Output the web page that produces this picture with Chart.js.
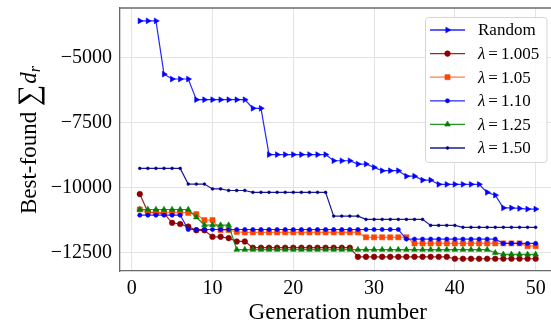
<!DOCTYPE html>
<html><head><meta charset="utf-8">
<script src="https://cdn.jsdelivr.net/npm/chart.js@4/dist/chart.umd.min.js"></script>
<style>html,body{margin:0;padding:0;background:#fff}canvas{display:block}</style>
</head><body>
<canvas id="c" width="551" height="322"></canvas>
<script>
// ---- data ----
const generations = [1,2,3,4,5,6,7,8,9,10,11,12,13,14,15,16,17,18,19,20,21,22,23,24,25,26,27,28,29,30,31,32,33,34,35,36,37,38,39,40,41,42,43,44,45,46,47,48,49,50];
const seriesNames = ['Random', 'λ=1.005', 'λ=1.05', 'λ=1.10', 'λ=1.25', 'λ=1.50'];
const randomVals = [-3600,-3600,-3600,-5650,-5835,-5835,-5835,-6630,-6630,-6630,-6630,-6630,-6630,-6630,-6960,-6960,-8740,-8740,-8740,-8740,-8740,-8740,-8740,-8740,-8977,-8977,-8977,-9104,-9104,-9231,-9360,-9360,-9360,-9570,-9570,-9720,-9720,-9885,-9885,-9885,-9885,-9885,-9885,-10192,-10300,-10790,-10790,-10810,-10835,-10835];
const lam1005 = [-10258,-10950,-10980,-11000,-11361,-11411,-11510,-11650,-11650,-11900,-11900,-11950,-12080,-12080,-12320,-12320,-12320,-12320,-12320,-12320,-12320,-12320,-12320,-12320,-12320,-12320,-12320,-12670,-12670,-12670,-12670,-12670,-12670,-12670,-12670,-12670,-12670,-12670,-12670,-12745,-12745,-12745,-12745,-12745,-12745,-12745,-12745,-12745,-12745,-12745];
const lam105 = [-10850,-10960,-10960,-10960,-10960,-10960,-10980,-11030,-11260,-11260,-11640,-11640,-11710,-11730,-11730,-11730,-11730,-11730,-11730,-11730,-11730,-11730,-11730,-11730,-11730,-11730,-11730,-11730,-11920,-11920,-11920,-11920,-11920,-11920,-12154,-12154,-12154,-12154,-12154,-12154,-12154,-12154,-12154,-12154,-12154,-12154,-12154,-12154,-12260,-12260];
const lam110 = [-11070,-11070,-11070,-11070,-11070,-11070,-11620,-11620,-11620,-11620,-11620,-11620,-11620,-11620,-11620,-11620,-11620,-11620,-11620,-11620,-11620,-11620,-11620,-11620,-11620,-11620,-11620,-11620,-11620,-11620,-11620,-11620,-11620,-11988,-11988,-11988,-11988,-11988,-11988,-11988,-11988,-11988,-11988,-11988,-11988,-12154,-12154,-12154,-12154,-12154];
const lam125 = [-10850,-10850,-10850,-10850,-10850,-10850,-10850,-11150,-11450,-11450,-11450,-11450,-12395,-12395,-12395,-12395,-12395,-12395,-12395,-12395,-12395,-12395,-12395,-12395,-12395,-12395,-12395,-12395,-12395,-12395,-12395,-12395,-12395,-12395,-12395,-12395,-12395,-12395,-12395,-12395,-12395,-12395,-12395,-12395,-12515,-12577,-12577,-12577,-12577,-12577];
const lam150 = [-9270,-9270,-9270,-9270,-9270,-9270,-9873,-9873,-9873,-10060,-10060,-10120,-10120,-10120,-10192,-10192,-10192,-10192,-10192,-10192,-10192,-10192,-10192,-10192,-11104,-11104,-11104,-11104,-11231,-11231,-11231,-11231,-11231,-11231,-11231,-11231,-11462,-11462,-11462,-11462,-11535,-11535,-11535,-11535,-11535,-11535,-11535,-11535,-11535,-11535];
const xTicks = [0, 10, 20, 30, 40, 50];
const yTicks = [-12500, -10000, -7500, -5000];
const xTitle = 'Generation number';

// ---- styles ----
const FONT = '"Liberation Serif", "Times New Roman", serif';
const styles = [
  {line:'rgba(0,0,255,0.85)', fill:'#0000ff', ps:'triangle', r:3.3, rot:90},
  {line:'rgba(139,0,0,0.85)', fill:'#8b0000', ps:'circle', r:2.8, rot:0},
  {line:'rgba(255,69,0,0.7)', fill:'#ff4500', ps:'rect', r:3.6, rot:0},
  {line:'rgba(0,0,255,0.85)', fill:'#0000ff', ps:'circle', r:2.1, rot:0},
  {line:'rgba(0,128,0,0.85)', fill:'#008000', ps:'triangle', r:3.3, rot:0},
  {line:'rgba(0,0,139,0.9)', fill:'#00008b', ps:'circle', r:1.4, rot:0}
];
const allSeries = [randomVals, lam1005, lam105, lam110, lam125, lam150];

const datasets = allSeries.map((vals, i) => ({
  label: seriesNames[i],
  data: generations.map((g, k) => ({x: g, y: vals[k]})),
  borderColor: styles[i].line,
  borderWidth: 1.2,
  backgroundColor: styles[i].fill,
  pointBackgroundColor: styles[i].fill,
  pointBorderColor: styles[i].fill,
  pointBorderWidth: 0.6,
  pointStyle: styles[i].ps,
  pointRadius: styles[i].r,
  pointRotation: styles[i].rot,
  tension: 0,
  order: -i
}));

function drawMarker(ctx, st, x, y) {
  ctx.save();
  ctx.fillStyle = st.fill; ctx.strokeStyle = st.fill; ctx.lineWidth = 0.6;
  ctx.translate(x, y);
  ctx.rotate(st.rot * Math.PI / 180);
  ctx.beginPath();
  const r = st.r;
  if (st.ps === 'circle') ctx.arc(0, 0, r, 0, Math.PI * 2);
  else if (st.ps === 'rect') { const s = r * Math.SQRT1_2; ctx.rect(-s, -s, 2 * s, 2 * s); }
  else if (st.ps === 'triangle') {
    ctx.moveTo(0, -r); ctx.lineTo(r * 0.866, r * 0.5); ctx.lineTo(-r * 0.866, r * 0.5); ctx.closePath();
  }
  ctx.fill(); ctx.stroke();
  ctx.restore();
}

const decorPlugin = {
  id: 'decor',
  afterDraw(chart) {
    const ctx = chart.ctx;
    const ca = chart.chartArea;
    ctx.save();
    // top spine
    ctx.strokeStyle = '#6a6a6a'; ctx.lineWidth = 1.3;
    ctx.beginPath(); ctx.moveTo(ca.left, ca.top); ctx.lineTo(ca.right, ca.top); ctx.stroke();

    // legend box
    const bx = 425.5, by = 17.5, bw = 121.5, bh = 145, rr = 3;
    ctx.beginPath();
    ctx.moveTo(bx + rr, by); ctx.lineTo(bx + bw - rr, by); ctx.quadraticCurveTo(bx + bw, by, bx + bw, by + rr);
    ctx.lineTo(bx + bw, by + bh - rr); ctx.quadraticCurveTo(bx + bw, by + bh, bx + bw - rr, by + bh);
    ctx.lineTo(bx + rr, by + bh); ctx.quadraticCurveTo(bx, by + bh, bx, by + bh - rr);
    ctx.lineTo(bx, by + rr); ctx.quadraticCurveTo(bx, by, bx + rr, by); ctx.closePath();
    ctx.fillStyle = 'rgba(255,255,255,0.85)'; ctx.fill();
    ctx.strokeStyle = 'rgba(210,210,210,0.9)'; ctx.lineWidth = 1; ctx.stroke();

    chart.data.datasets.forEach((ds, i) => {
      const y = 30 + i * 23.6;
      ctx.strokeStyle = ds.borderColor; ctx.lineWidth = 1.3;
      ctx.beginPath(); ctx.moveTo(430, y); ctx.lineTo(465, y); ctx.stroke();
      drawMarker(ctx, styles[i], 447.5, y);
      ctx.fillStyle = '#000'; ctx.textBaseline = 'middle'; ctx.textAlign = 'left';
      const label = ds.label;
      const ty = y + 1;
      if (label.charAt(0) === 'λ') {
        ctx.font = 'italic 17px ' + FONT;
        ctx.fillText('λ', 478, ty);
        let x = 478 + ctx.measureText('λ').width + 3;
        ctx.font = '17px ' + FONT;
        ctx.fillText('=', x, ty);
        x += ctx.measureText('=').width + 3;
        ctx.fillText(label.split('=')[1], x, ty);
      } else {
        ctx.font = '17px ' + FONT;
        ctx.fillText(label, 478, ty);
      }
    });

    // x title
    ctx.fillStyle = '#000'; ctx.textBaseline = 'alphabetic'; ctx.textAlign = 'center';
    ctx.font = '23px ' + FONT;
    ctx.fillText(xTitle, 337.7, 319);

    // y title: Best-found ∑d_r
    ctx.translate(35.5, 140);
    ctx.rotate(-Math.PI / 2);
    ctx.textAlign = 'left';
    const f1 = '23px ' + FONT, fS = '30px ' + FONT, fI = 'italic 23px ' + FONT, fSub = 'italic 16px ' + FONT;
    ctx.font = f1; const w1 = ctx.measureText('Best-found ').width;
    ctx.font = fS; const wS = ctx.measureText('∑').width;
    ctx.font = fI; const wd = ctx.measureText('d').width;
    ctx.font = fSub; const wr = ctx.measureText('r').width;
    const total = w1 + wS + 1 + wd + wr;
    let x = -total / 2;
    ctx.font = f1; ctx.fillText('Best-found ', x, 0); x += w1;
    ctx.font = fS; ctx.fillText('∑', x, 2); x += wS + 1;
    ctx.font = fI; ctx.fillText('d', x, 0); x += wd;
    ctx.font = fSub; ctx.fillText('r', x, 4);
    ctx.restore();
  }
};

const fmt = v => (v < 0 ? '\u2212' : '') + Math.abs(v);
const noPad = s => { s.paddingTop = 0; s.paddingBottom = 0; s.paddingLeft = 0; s.paddingRight = 0; };

new Chart(document.getElementById('c'), {
  type: 'line',
  data: { datasets },
  options: {
    responsive: false,
    devicePixelRatio: 1,
    animation: false,
    layout: { autoPadding: false, padding: { left: 0, top: 8, right: 0, bottom: 0 } },
    plugins: { legend: { display: false }, tooltip: { enabled: false } },
    scales: {
      x: {
        type: 'linear', min: -1.45, max: 51.9,
        afterBuildTicks: s => { s.ticks = xTicks.map(v => ({value: v})); },
        afterFit: s => { s.height = 51; noPad(s); },
        grid: { color: '#e3e3e3', lineWidth: 1, drawTicks: false },
        border: { color: '#6a6a6a', width: 1.3 },
        ticks: { color: '#000', font: { family: FONT, size: 20 }, padding: 6, maxRotation: 0, callback: fmt }
      },
      y: {
        type: 'linear', min: -13215, max: -3105,
        afterBuildTicks: s => { s.ticks = yTicks.map(v => ({value: v})); },
        afterFit: s => { s.width = 120; noPad(s); },
        grid: { color: '#e3e3e3', lineWidth: 1, drawTicks: false },
        border: { color: '#6a6a6a', width: 1.3 },
        ticks: { color: '#000', font: { family: FONT, size: 20 }, padding: 8, callback: fmt }
      }
    }
  },
  plugins: [decorPlugin]
});
</script>
</body></html>
